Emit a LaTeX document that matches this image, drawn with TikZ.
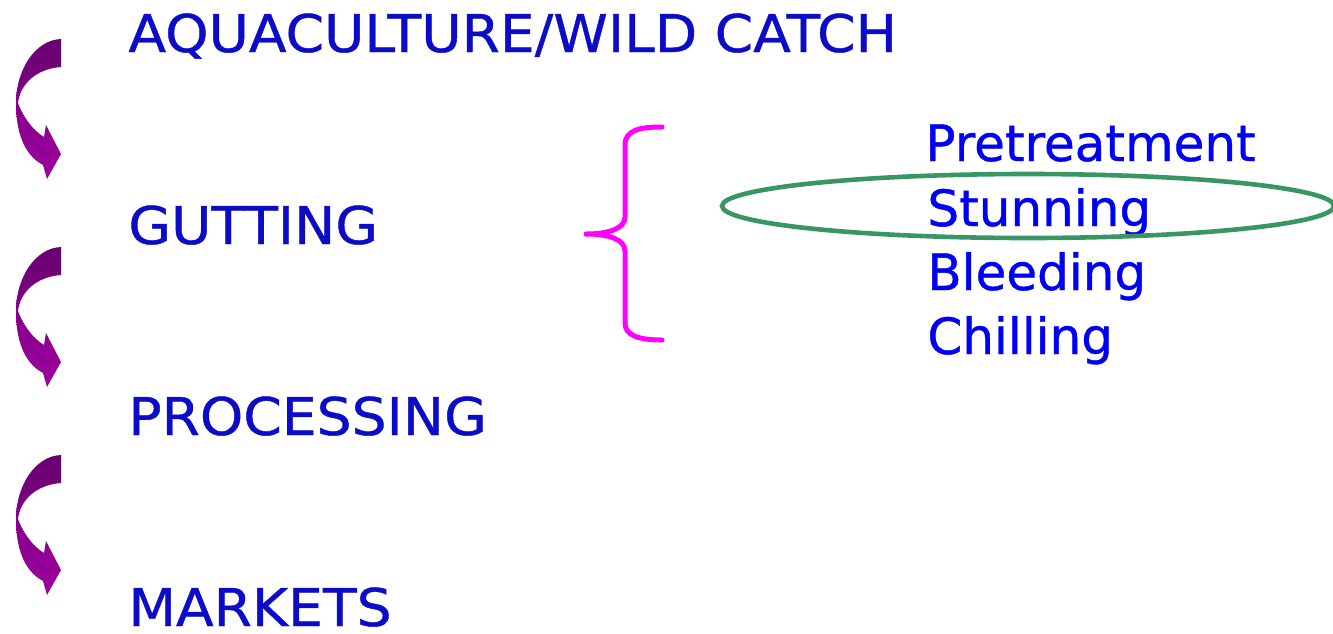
\documentclass[tikz,border=0pt]{standalone}
\usepackage{fontspec}
\setmainfont{DejaVu Sans}
\newfontfamily\stagefont[FakeStretch=1.06,FakeBold=0.8]{DejaVu Sans}
\newfontfamily\substepfont[FakeBold=0.8]{DejaVu Sans}
\definecolor{stageblue}{RGB}{12,12,200}
\definecolor{subblue}{RGB}{0,0,245}
\definecolor{bracemag}{RGB}{255,0,255}
\definecolor{ringgreen}{RGB}{56,150,100}
\definecolor{arrowtop}{RGB}{104,0,112}
\definecolor{arrowbot}{RGB}{160,0,160}
\begin{document}
\begin{tikzpicture}[x=0.5pt,y=-0.5pt,
  stage/.style={anchor=base west, inner sep=0pt, text=stageblue,
    font=\stagefont\fontsize{26}{30}\selectfont},
  substep/.style={anchor=base west, inner sep=0pt, text=subblue,
    font=\substepfont\fontsize{25}{30}\selectfont},
  curvearrow/.pic={
    \shade[top color=arrowtop, bottom color=arrowbot]
      (61,0) -- (61,28)
      .. controls (35,30) and (20,46) .. (18,64)
      .. controls (24,80) and (34,92) .. (44,98)
      -- (46,86) -- (61,115) -- (47,140) -- (43,126)
      .. controls (28,118) and (16,100) .. (16,64)
      .. controls (16,31) and (35,1) .. (61,0) -- cycle;
  },
]
\useasboundingbox (0,0) rectangle (1333,633);

% flow of stages
\node[stage] (catch) at (128,52) {AQUACULTURE/WILD CATCH};
\node[stage] (gut)   at (128,244) {GUTTING};
\node[stage] (proc)  at (128,435) {PROCESSING};
\node[stage] (mkt)   at (128,626) {MARKETS};

% curved arrows between the stages
\pic at (0,39)  {curvearrow};
\pic at (0,247) {curvearrow};
\pic at (0,455) {curvearrow};

% brace gathering the gutting steps
\draw[bracemag, line width=2.5pt, line cap=round, line join=round]
  (662,127) .. controls (640,127) and (625,130) .. (625,145)
  -- (625,217) .. controls (625,228) and (610,234) .. (586,234)
  .. controls (610,234) and (625,240) .. (625,251)
  -- (625,323) .. controls (625,336) and (640,340) .. (662,340);

% gutting steps
\node[substep] (pre)   at (925,161) {Pretreatment};
\node[substep] (stun)  at (927,226) {Stunning};
\node[substep] (bleed) at (927,290) {Bleeding};
\node[substep] (chill) at (927,354) {Chilling};

% ring highlighting stunning
\draw[ringgreen, line width=2.3pt] (1028,206) ellipse [x radius=306, y radius=32];
\end{tikzpicture}
\end{document}
